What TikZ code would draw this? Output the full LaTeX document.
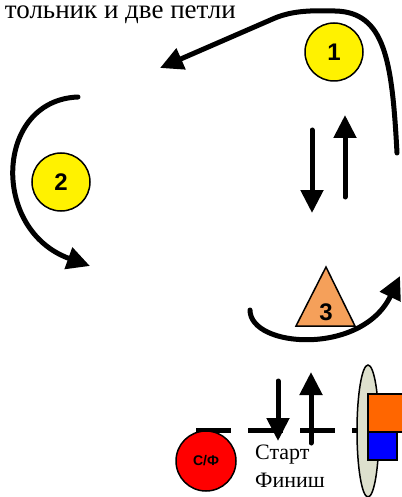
\documentclass[tikz,border=0pt]{standalone}
\usepackage{fontspec}
\setmainfont{Liberation Serif}
\newfontfamily\numfont{Liberation Sans}
\usetikzlibrary{arrows.meta}

\definecolor{trianglefill}{RGB}{245,160,90}
\definecolor{postfill}{RGB}{221,224,205}
\definecolor{flagorange}{RGB}{255,102,0}

\tikzset{
  loopline/.style={line width=5pt, line cap=round, -{Triangle[length=23pt,width=22pt]}},
  ball/.style={circle, draw, line width=1.5pt, fill=yellow, minimum size=58pt, inner sep=0pt,
    font=\numfont\bfseries\fontsize{24}{24}\selectfont},
}

\begin{document}
\begin{tikzpicture}[x=1pt,y=-1pt]
    \useasboundingbox (0,0) rectangle (401,497);
    % title
    \node[anchor=base east, inner sep=0pt, font=\fontsize{27}{32}\selectfont] (title) at (236,19) {тольник и две петли};
    % loop 1
    \draw[loopline] (397,153) .. controls (392,60) and (385,12) .. (335,11)
        .. controls (305,10) and (290,12) .. (275,18) -- (160,68);
    \node[ball] (one) at (334,52) {1};
    % loop 2
    \draw[loopline] (78,97) .. controls (-5,100) and (-10,230) .. (90,266);
    \node[ball] (two) at (61,182) {2};
    % middle arrows
    \draw[loopline] (312,130) -- (312,213);
    \draw[loopline] (345,197) -- (345,115);
    % triangle 3
    \draw[fill=trianglefill, line width=1.5pt] (326,267) -- (355,326) -- (296,326) -- cycle;
    \node[font=\numfont\bfseries\fontsize{24}{24}\selectfont] (three) at (326,312) {3};
    % loop 3
    \draw[loopline] (250,310) .. controls (250,348) and (362,356) .. (400,276);
    % start line
    \draw[line width=5pt, dash pattern=on 35pt off 17pt] (196,430) -- (362,430);
    \draw[loopline] (278,381) -- (278,441);
    \draw[loopline] (311,443) -- (311,372);
    % start / finish
    \node[ball, fill=red, minimum size=60pt, font=\numfont\bfseries\fontsize{14}{14}\selectfont] (sf) at (206,461) {С/Ф};
    \node[anchor=base west, inner sep=0pt, font=\fontsize{22}{26}\selectfont] (start) at (255,459) {Старт};
    \node[anchor=base west, inner sep=0pt, font=\fontsize{22}{26}\selectfont] (finish) at (255,487) {Финиш};
    % gate post and flags
    \draw[fill=postfill, line width=1.5pt] (368,431) ellipse [x radius=11, y radius=66];
    \draw[fill=flagorange, line width=1.5pt] (368,394) rectangle (406,432);
    \draw[fill=blue, line width=1.5pt] (368,432) rectangle (397,460);
\end{tikzpicture}
\end{document}
